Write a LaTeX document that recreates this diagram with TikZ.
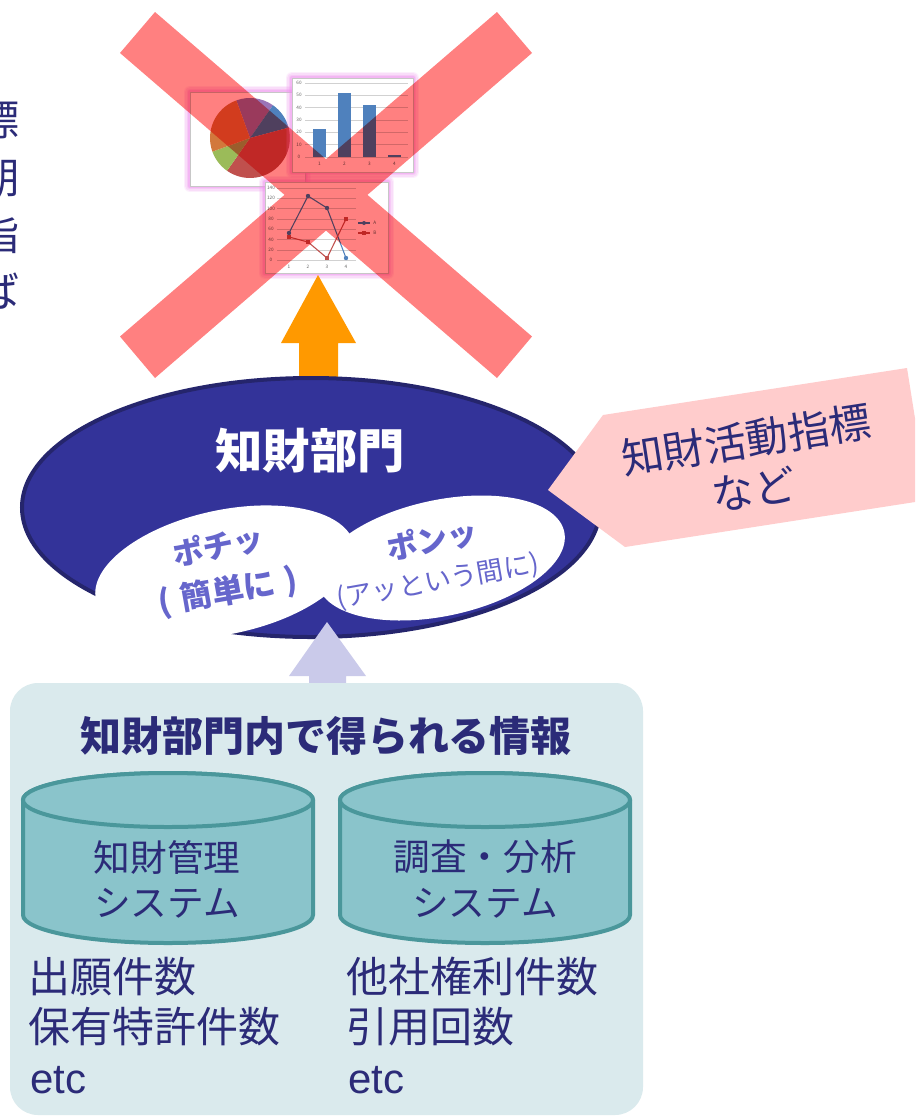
\documentclass[tikz,border=0pt]{standalone}
\usepackage{fontspec}
\setmainfont{Noto Sans CJK JP}
\newfontfamily\latinfont{Liberation Sans}
\usetikzlibrary{calc}

\definecolor{navy}{HTML}{333399}
\definecolor{navyedge}{HTML}{25256C}
\definecolor{ink}{HTML}{2B2B78}
\definecolor{blobink}{HTML}{6666CC}
\definecolor{calloutfill}{HTML}{FFCCCC}
\definecolor{boxfill}{HTML}{DAEAED}
\definecolor{cylfill}{HTML}{8AC4CB}
\definecolor{cyledge}{HTML}{4A979B}
\definecolor{orangearrow}{HTML}{FF9900}
\definecolor{lavarrow}{HTML}{CACAEA}
\definecolor{xred}{HTML}{FF8080}
\definecolor{glow}{HTML}{F090F0}
\definecolor{xlblue}{HTML}{4F81BD}
\definecolor{xlred}{HTML}{C0504D}
\definecolor{xlgreen}{HTML}{9BBB59}
\definecolor{xlpurple}{HTML}{9A74B8}
\definecolor{xlbrown}{HTML}{D2783C}

\tikzset{
  txt/.style={inner sep=0pt, text=ink},
  bigjp/.style={txt, font=\fontsize{31.5}{38}\selectfont},
  cyljp/.style={txt, font=\fontsize{27.5}{33}\selectfont},
  chartframe/.style={draw=black!22, line width=0.4pt, fill=white},
  gridline/.style={draw=black!18, line width=0.3pt},
  ticklabel/.style={inner sep=0pt, text=black!60, font=\fontsize{3.5}{4}\selectfont},
  cylbody/.style={fill=cylfill, draw=cyledge, line width=3pt},
  dbcyl/.pic={
    \path[cylbody] (-145,0) -- (-145,115)
      arc[start angle=180, end angle=0, x radius=145, y radius=28]
      -- (145,0)
      arc[start angle=360, end angle=180, x radius=145, y radius=27] -- cycle;
    \path[cylbody] (0,0) ellipse [x radius=145, y radius=27];
  }
}
% soft pink halo round a chart thumbnail
\newcommand\halo[2]{%
  \foreach \w/\o in {9/0.14,7/0.18,5/0.24,3/0.34}{
    \draw[glow, line width=\w pt, opacity=\o, line join=round] #1 rectangle #2;
  }%
}

\begin{document}
\begin{tikzpicture}[x=0.75pt, y=-0.75pt]
\useasboundingbox (0,0) rectangle (915,1118);
\fill[white] (0,0) rectangle (915,1118);
\clip (0,0) rectangle (915,1118);

% ---------- chart thumbnails ----------
% pie chart
\halo{(190,92)}{(305,186)}
\path[chartframe] (190,92) rectangle (305,186);
\coordinate (pie) at (250,138);
\fill[xlpurple] (pie) -- ++(-110:40) arc[start angle=-110, end angle=-55, radius=40] -- cycle;
\fill[xlblue]   (pie) -- ++(-55:40) arc[start angle=-55, end angle=-15, radius=40] -- cycle;
\fill[xlred]    (pie) -- ++(-15:40) arc[start angle=-15, end angle=125, radius=40] -- cycle;
\fill[xlgreen]  (pie) -- ++(125:40) arc[start angle=125, end angle=160, radius=40] -- cycle;
\fill[xlbrown]  (pie) -- ++(160:40) arc[start angle=160, end angle=250, radius=40] -- cycle;

% bar chart
\halo{(292,78)}{(413,172)}
\path[chartframe] (292,78) rectangle (413,172);
\foreach \i/\v in {0/60,1/50,2/40,3/30,4/20,5/10,6/0}{
  \draw[gridline] (305,{83+\i*12.33}) -- (408,{83+\i*12.33});
  \node[ticklabel] (barlab\i) at (299,{83+\i*12.33}) {\v};
}
\fill[xlblue] (313,129) rectangle (326,157);
\fill[xlblue] (338,93) rectangle (351,157);
\fill[xlblue] (363,105) rectangle (376,157);
\fill[xlblue] (388,155) rectangle (401,157);
\foreach \k/\xx in {1/319.5,2/344.5,3/369.5,4/394.5}{
  \node[ticklabel] (barcat\k) at (\xx,164) {\k};
}

% line chart
\halo{(265,182)}{(388,273)}
\path[chartframe] (265,182) rectangle (388,273);
\foreach \i/\v in {0/140,1/120,2/100,3/80,4/60,5/40,6/20,7/0}{
  \draw[gridline] (277,{188+\i*10.29}) -- (356,{188+\i*10.29});
  \node[ticklabel] (linelab\i) at (271,{188+\i*10.29}) {\v};
}
\draw[xlblue, line width=0.8pt] (289,233) -- (308,196) -- (327,208) -- (346,258);
\draw[xlred, line width=0.8pt] (289,237) -- (308,242) -- (327,258) -- (346,219);
\foreach \p in {(289,233),(308,196),(327,208),(346,258)}{\fill[xlblue] \p circle (2.2);}
\foreach \p in {(289,237),(308,242),(327,258),(346,219)}{\fill[xlred] \p +(-2.2,-2.2) rectangle +(2.2,2.2);}
\draw[xlblue, line width=0.8pt] (358,223) -- (370,223);
\fill[xlblue] (364,223) circle (2);
\node[ticklabel, anchor=west] (legA) at (373,223) {A};
\draw[xlred, line width=0.8pt] (358,233) -- (370,233);
\fill[xlred] (362,231) rectangle (366,235);
\node[ticklabel, anchor=west] (legB) at (373,233) {B};
\foreach \k/\xx in {1/289,2/308,3/327,4/346}{
  \node[ticklabel] (linecat\k) at (\xx,267) {\k};
}

% ---------- crossing-out mark ----------
\fill[xred, blend mode=multiply]
  (155,12) -- (532,336.5) -- (497,378) -- (120,53) -- cycle
  (497,12) -- (532,53) -- (155,378) -- (120,336.5) -- cycle;

% ---------- clipped vertical text at the left edge ----------
\foreach \c/\yy [count=\n] in {標/120,期/178,指/235,ば/291}{
  \node[bigjp] (edge\n) at (-1,\yy) {\c};
}

% ---------- upward arrow to the charts ----------
\fill[orangearrow] (299,395) -- (299,343) -- (281,343) -- (318,275)
  -- (356,343) -- (338,343) -- (338,395) -- cycle;

% ---------- IP department ellipse ----------
\path[fill=navy, draw=navyedge, line width=3pt] (311,507.5) ellipse [x radius=289, y radius=129.5];
\node[inner sep=0pt, text=white, font=\fontsize{35.5}{40}\selectfont\bfseries] (dept) at (310,451) {知財部門};

\fill[white, rotate around={12:(225,572)}] (225,572) ellipse [x radius=132, y radius=62];
\fill[white, rotate around={12:(441,558)}] (441,558) ellipse [x radius=126, y radius=58];

\node[inner sep=0pt, text=blobink, rotate=11, font=\fontsize{23}{28}\selectfont\bfseries] (pochi) at (218,546) {ポチッ};
\node[inner sep=0pt, text=blobink, rotate=10, font=\fontsize{24}{28}\selectfont\bfseries] (kantan) at (228,592) {(\hspace{0.3em}簡単に\hspace{0.3em})};
\node[inner sep=0pt, text=blobink, rotate=11, font=\fontsize{23}{28}\selectfont\bfseries] (pon) at (432,540) {ポンッ};
\node[inner sep=0pt, text=blobink, rotate=10, font=\fontsize{20}{24}\selectfont] (attoiuma) at (438,582) {(アッという間に)};

% ---------- callout ----------
\fill[calloutfill] (548,490) -- (603,415) -- (907,368) -- (928,500) -- (625,547) -- cycle;
\node[txt, rotate=8.8, align=center, font=\fontsize{31.5}{37.5}\selectfont] (kpi) at (750,464) {知財活動指標\\など};

% ---------- information inside the department ----------
\fill[lavarrow] (309,692) -- (309,676) -- (289,676) -- (327,622)
  -- (366,676) -- (346,676) -- (346,692) -- cycle;

\fill[boxfill, rounded corners=21pt] (10,683) rectangle (643,1115);
\node[txt, font=\fontsize{30.75}{36}\selectfont\bfseries] (infotitle) at (326,736) {知財部門内で得られる情報};

\pic at (168,800) {dbcyl};
\pic at (485,800) {dbcyl};
\node[cyljp] (mgmt1) at (167,857) {知財管理};
\node[cyljp] (mgmt2) at (167,903) {システム};
\node[cyljp] (srch1) at (485,857) {調査・分析};
\node[cyljp] (srch2) at (485,903) {システム};

\node[bigjp, anchor=base west] (l1) at (28,992) {出願件数};
\node[bigjp, anchor=base west] (l2) at (28,1042) {保有特許件数};
\node[txt, anchor=base west, font=\latinfont\fontsize{31.5}{38}\selectfont] (l3) at (30,1093) {etc};
\node[bigjp, anchor=base west] (r1) at (346,992) {他社権利件数};
\node[bigjp, anchor=base west] (r2) at (346,1042) {引用回数};
\node[txt, anchor=base west, font=\latinfont\fontsize{31.5}{38}\selectfont] (r3) at (348,1093) {etc};
\end{tikzpicture}
\end{document}
